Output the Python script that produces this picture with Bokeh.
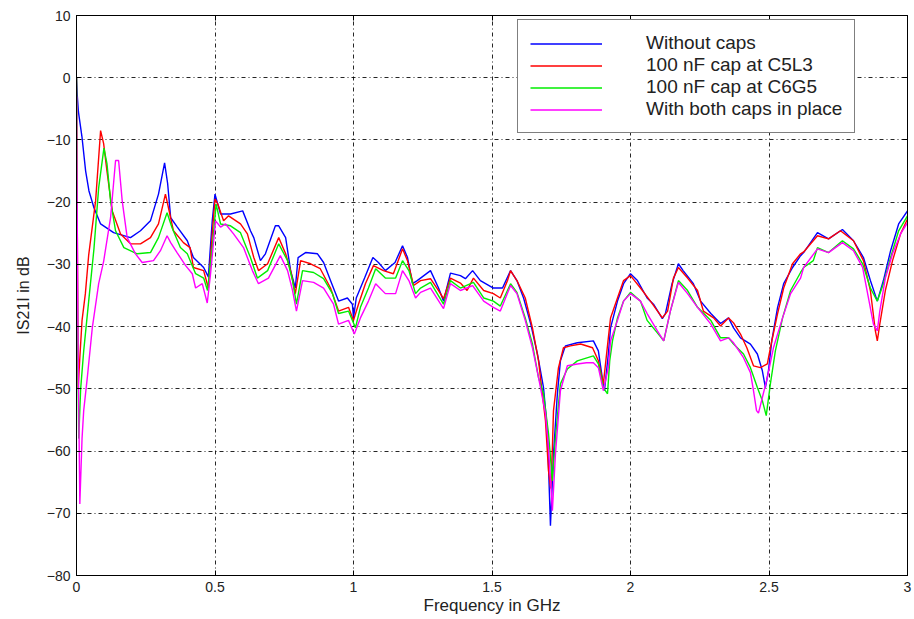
from bokeh.plotting import figure
from bokeh.models import (LinearAxis, Legend, LegendItem, NumeralTickFormatter, FixedTicker,
                          CustomJSTickFormatter)
from bokeh.embed import file_html
from bokeh.resources import INLINE

series_names = ["Without caps", "100 nF cap at C5L3", "100 nF cap at C6G5", "With both caps in place"]
series_colors = ["#0000ff", "#ff0000", "#00ee00", "#ff00ff"]

x_ticks = [0, 0.5, 1, 1.5, 2, 2.5, 3]
y_ticks = [-80, -70, -60, -50, -40, -30, -20, -10, 0, 10]

f_blue = [0, 0.003, 0.007, 0.02, 0.033, 0.045, 0.063, 0.087, 0.134, 0.195, 0.231, 0.267, 0.296, 0.318, 0.329,
          0.34, 0.364, 0.4, 0.422, 0.459, 0.476, 0.49, 0.5, 0.52, 0.531, 0.556, 0.6, 0.617, 0.628, 0.64, 0.664,
          0.682, 0.718, 0.73, 0.755, 0.773, 0.79, 0.8, 0.827, 0.87, 0.892, 0.917, 0.946, 0.978, 0.996, 1.0, 1.01,
          1.04, 1.07, 1.09, 1.115, 1.15, 1.177, 1.195, 1.213, 1.23, 1.278, 1.307, 1.325, 1.35, 1.386, 1.404,
          1.43, 1.458, 1.505, 1.538, 1.567, 1.59, 1.614, 1.64, 1.664, 1.686, 1.7, 1.711, 1.722, 1.736, 1.747,
          1.765, 1.808, 1.866, 1.884, 1.898, 1.906, 1.92, 1.928, 1.953, 1.975, 2.0, 2.025, 2.06, 2.083, 2.115,
          2.126, 2.15, 2.173, 2.19, 2.227, 2.253, 2.29, 2.325, 2.354, 2.372, 2.397, 2.433, 2.458, 2.476, 2.487,
          2.498, 2.51, 2.531, 2.553, 2.585, 2.614, 2.625, 2.675, 2.715, 2.765, 2.805, 2.841, 2.866, 2.891, 2.913,
          2.939, 2.968, 3.0]
db_blue = [0, -3, -5.5, -9.6, -15, -18.2, -20.9, -23.5, -24.9, -25.7, -24.6, -23, -18.7, -13.7, -17,
           -22.5, -24, -26.2, -28.9, -30.5, -32, -23, -18.7, -21.9, -21.9, -21.9, -21.4, -23.3, -24.6, -25.7, -29.4,
           -28.3, -23.8, -23.8, -25.7, -31, -33.8, -28.9, -28.1, -28.3, -29.7, -32.6, -35.9, -35.4, -36.4, -38.6, -35.4,
           -32.2, -28.9, -29.7, -31, -29.7, -27, -28.9, -33.1, -32.6, -31, -33.8, -35.9, -31.4, -31.8, -32.3,
           -31, -32.6, -33.8, -33.8, -31, -32.6, -35.4, -39.6, -44.4, -49.8, -56.8, -72, -60.5, -50.8, -45.5,
           -43.1, -42.6, -42.3, -43.9, -48.2, -50.3, -44.4, -40.2, -35.9, -33.1, -31.5, -32.6, -35.4, -36.4, -38.7,
           -37.9, -33.1, -29.9, -31, -33.1, -35.9, -37.9, -39.5, -38.6, -40.2, -41.8, -42.8, -44.4, -47.1, -49.8,
           -47.1, -42.3, -36.9, -33.1, -30.5, -28.6, -28.1, -24.9, -25.9, -24.4, -26.2, -28.9, -32.6, -35.9, -32.6,
           -27.8, -23.5, -21.4]

f_red = [0, 0.006, 0.012, 0.02, 0.032, 0.044, 0.069, 0.087, 0.098, 0.11, 0.129, 0.159, 0.195, 0.231, 0.267,
         0.296, 0.321, 0.332, 0.35, 0.386, 0.41, 0.422, 0.459, 0.476, 0.49, 0.5, 0.51, 0.531, 0.549, 0.592, 0.617,
         0.64, 0.657, 0.69, 0.73, 0.755, 0.773, 0.79, 0.809, 0.845, 0.88, 0.917, 0.946, 0.982, 1.0, 1.018, 1.043,
         1.072, 1.108, 1.144, 1.177, 1.195, 1.217, 1.242, 1.278, 1.307, 1.325, 1.35, 1.386, 1.41, 1.433, 1.47,
         1.505, 1.53, 1.556, 1.567, 1.59, 1.62, 1.646, 1.668, 1.693, 1.704, 1.712, 1.718, 1.722, 1.74, 1.758,
         1.783, 1.82, 1.863, 1.884, 1.902, 1.92, 1.928, 1.953, 1.975, 2.0, 2.036, 2.072, 2.115, 2.134, 2.155,
         2.173, 2.206, 2.242, 2.263, 2.3, 2.325, 2.354, 2.372, 2.397, 2.42, 2.444, 2.469, 2.494, 2.505, 2.531,
         2.553, 2.585, 2.614, 2.625, 2.675, 2.715, 2.758, 2.805, 2.841, 2.866, 2.884, 2.891, 2.9, 2.92, 2.946,
         2.975, 3.0]
db_red = [0, -50, -45, -39, -34.7, -28.5, -19.8, -8.5, -10.6, -15, -21.4, -25.1, -26.7, -26.7, -25.7,
          -23.5, -18.7, -20.9, -24.6, -26.5, -27.3, -30.5, -31, -33.8, -25.1, -19.5, -20.3, -23, -22.2, -23.5, -25.1,
          -28.9, -31, -29.9, -25.7, -28.3, -31, -34.7, -29.4, -29.9, -30.7, -33.8, -37.5, -36.9, -39, -36.4, -33.1,
          -30.2, -31, -31.5, -27.5, -29.4, -33.4, -32.6, -32.3, -34.2, -35.5, -32.2, -33, -34.2, -32.2, -34.2,
          -34.7, -35.4, -32.6, -31, -32.6, -35.4, -40.2, -45.5, -55.1, -63.2, -66, -59.5, -53.5, -46.6, -43.4,
          -43.1, -42.8, -43.4, -45.5, -49.2, -41.8, -38.6, -35.4, -32.6, -31.8, -33.8, -35.9, -38.6, -37.5, -32.2,
          -30.5, -32.2, -34.2, -37.5, -38.6, -39.9, -38.6, -39.4, -41.2, -43.4, -46.3, -46.6, -46, -43.4, -37.9,
          -33.8, -29.9, -28.3, -28, -25.4, -25.9, -24.6, -26.2, -29.4, -34.2, -40.7, -42.3, -39.6, -34.2, -29.4,
          -25.1, -22.7]

f_green = [0, 0.004, 0.008, 0.015, 0.026, 0.044, 0.063, 0.08, 0.099, 0.11, 0.123, 0.141, 0.171, 0.219, 0.267,
           0.296, 0.327, 0.345, 0.375, 0.4, 0.43, 0.459, 0.473, 0.49, 0.504, 0.52, 0.556, 0.592, 0.628, 0.653,
           0.69, 0.73, 0.762, 0.78, 0.794, 0.816, 0.856, 0.892, 0.924, 0.946, 0.982, 1.007, 1.025, 1.054, 1.08,
           1.115, 1.152, 1.177, 1.2, 1.224, 1.242, 1.278, 1.325, 1.35, 1.386, 1.433, 1.47, 1.505, 1.53, 1.567,
           1.59, 1.62, 1.646, 1.668, 1.686, 1.704, 1.718, 1.729, 1.747, 1.772, 1.808, 1.866, 1.884, 1.902, 1.917,
           1.925, 1.935, 1.953, 1.975, 2.0, 2.036, 2.06, 2.097, 2.12, 2.144, 2.173, 2.206, 2.242, 2.29, 2.325,
           2.354, 2.372, 2.408, 2.433, 2.458, 2.476, 2.49, 2.505, 2.523, 2.549, 2.578, 2.614, 2.625, 2.66, 2.675,
           2.715, 2.765, 2.805, 2.838, 2.866, 2.891, 2.913, 2.939, 2.968, 3.0]
db_green = [0, -40, -58, -50, -43.9, -35.9, -27.5, -17.7, -11.3, -13.8, -19.8, -24.6, -27.3, -28.3, -28.1,
            -25.7, -21.7, -24.1, -27.3, -28.3, -31.5, -32.2, -34.2, -27.3, -20.3, -23.5, -23.8, -24.9, -28.9, -32.2,
            -31, -26.7, -29.4, -32.6, -36.4, -31, -31.3, -32.3, -34.7, -37.9, -37.5, -40.2, -36.9, -33.8, -30.7,
            -32.2, -32.2, -29.4, -31, -34.7, -33.8, -32.9, -36.4, -32.6, -33.8, -32.9, -35.4, -35.9, -36.7, -33.1,
            -34.5, -38.6, -42.8, -48.2, -50.8, -57.2, -64.8, -57.9, -49.2, -46.8, -45.5, -44.7, -46, -49.8, -50.8,
            -45.5, -42.3, -38.6, -35.9, -34.5, -35.9, -39, -41, -42.3, -37.5, -32.6, -34.2, -36.9, -39, -41.8,
            -41.8, -42.8, -44.4, -46.6, -49.8, -51.9, -54.3, -49.2, -43.9, -38.6, -34.2, -31.3, -30.5, -29.4, -27.3,
            -28.1, -26.2, -27.5, -29.9, -33.8, -35.9, -33.1, -28.9, -24.6, -22.2]

f_mag = [0, 0.005, 0.012, 0.02, 0.026, 0.039, 0.057, 0.08, 0.098, 0.123, 0.141, 0.152, 0.165, 0.183, 0.213,
         0.237, 0.278, 0.303, 0.327, 0.34, 0.363, 0.394, 0.418, 0.43, 0.454, 0.472, 0.484, 0.502, 0.52, 0.538,
         0.567, 0.603, 0.635, 0.657, 0.693, 0.736, 0.762, 0.78, 0.794, 0.816, 0.856, 0.892, 0.928, 0.946, 0.982,
         1.003, 1.025, 1.054, 1.08, 1.115, 1.152, 1.177, 1.2, 1.224, 1.242, 1.278, 1.325, 1.35, 1.386, 1.43,
         1.47, 1.505, 1.53, 1.567, 1.59, 1.62, 1.646, 1.668, 1.693, 1.704, 1.718, 1.729, 1.747, 1.772, 1.808,
         1.841, 1.866, 1.884, 1.902, 1.92, 1.928, 1.953, 1.975, 2.0, 2.036, 2.06, 2.097, 2.12, 2.144, 2.173,
         2.206, 2.242, 2.29, 2.325, 2.354, 2.372, 2.408, 2.433, 2.444, 2.455, 2.462, 2.476, 2.494, 2.516, 2.549,
         2.578, 2.614, 2.625, 2.675, 2.715, 2.765, 2.805, 2.838, 2.859, 2.877, 2.891, 2.9, 2.92, 2.946, 2.975, 3.0]
db_mag = [-3, -40, -68.5, -58, -53.5, -48.2, -40.2, -33.1, -29.5, -22.5, -13.3, -13.3, -19.8, -25.7, -28.3,
          -29.7, -29.4, -27.8, -25.4, -26.5, -28.1, -30.2, -31.5, -33.8, -33.1, -36.2, -31.5, -23, -24, -23.5,
          -25.1, -27.3, -31, -33.1, -32.2, -28.6, -31, -34.2, -37.5, -32.6, -32.9, -33.8, -36.4, -39.6, -39,
          -41.2, -38.6, -35.9, -33.1, -34.7, -34.7, -31, -32.6, -35.4, -34.5, -33.8, -37.1, -33.1, -34.2, -33.4,
          -35.9, -36.9, -37.5, -33.4, -34.7, -39, -43.4, -48.2, -54, -59.5, -69.6, -60.5, -50.3, -46.3, -46,
          -45.8, -45.8, -46.6, -50.3, -46.6, -42.3, -39, -35.9, -34.7, -35.9, -37.9, -40.7, -42.3, -37.5, -32.9,
          -34.7, -36.9, -39.6, -42.3, -41.8, -42.6, -45, -47.4, -50.3, -53.5, -53.9, -51.4, -48.2, -43.4, -38.6,
          -34.7, -32.2, -30.5, -27.5, -28.1, -26.5, -27.8, -30.5, -35.4, -39.6, -40.7, -37.5, -32.2, -28.3, -25.1, -23.3]

FONT = "Liberation Sans"

p = figure(width=914, height=619, x_range=(0, 3), y_range=(-80, 10),
           output_backend="svg", toolbar_location=None,
           min_border_left=76, min_border_right=7, min_border_top=15, min_border_bottom=44,
           x_axis_label="Frequency in GHz", y_axis_label="IS21I in dB")
p.background_fill_color = "white"
p.border_fill_color = "white"
p.outline_line_color = "black"
p.outline_line_width = 1

for ax in (p.xaxis[0], p.yaxis[0]):
    ax.major_tick_in = 5
    ax.major_tick_out = 0
    ax.minor_tick_in = 0
    ax.minor_tick_out = 0
    ax.axis_line_color = "black"
    ax.major_tick_line_color = "black"
    ax.major_label_text_font = FONT
    ax.major_label_text_font_size = "14px"
    ax.major_label_text_color = "#222222"
    ax.axis_label_text_font = FONT
    ax.axis_label_text_font_style = "normal"
    ax.axis_label_text_color = "#222222"

p.xaxis[0].axis_label_text_font_size = "17px"
p.yaxis[0].axis_label_text_font_size = "16px"
p.xaxis[0].ticker = FixedTicker(ticks=x_ticks)
p.yaxis[0].ticker = FixedTicker(ticks=y_ticks)
p.xaxis[0].formatter = NumeralTickFormatter(format="0.[0]")
p.xaxis[0].major_label_standoff = 6
p.xaxis[0].axis_label_standoff = 1
p.yaxis[0].major_label_standoff = 6
p.yaxis[0].axis_label_standoff = 12

# mirrored tick-only axes at top and right (MATLAB box ticks)
blank = CustomJSTickFormatter(code="return '';")
top = LinearAxis(ticker=FixedTicker(ticks=x_ticks), formatter=blank, major_tick_in=5, major_tick_out=0,
                 minor_tick_in=0, minor_tick_out=0, major_label_text_font_size="1px",
                 major_label_standoff=0)
right = LinearAxis(ticker=FixedTicker(ticks=y_ticks), formatter=blank, major_tick_in=5, major_tick_out=0,
                   minor_tick_in=0, minor_tick_out=0, major_label_text_font_size="1px",
                   major_label_standoff=0)
p.add_layout(top, "above")
p.add_layout(right, "right")

for g in (p.xgrid[0], p.ygrid[0]):
    g.grid_line_color = "black"
    g.grid_line_dash = "4 3 1 3"
    g.grid_line_width = 1
    g.grid_line_alpha = 0.85
p.xgrid[0].ticker = FixedTicker(ticks=x_ticks)
p.ygrid[0].ticker = FixedTicker(ticks=y_ticks)

xs_all = [f_blue, f_red, f_green, f_mag]
ys_all = [db_blue, db_red, db_green, db_mag]
renderers = []
for xs, ys, c in zip(xs_all, ys_all, series_colors):
    renderers.append(p.line(xs, ys, line_color=c, line_width=1.4))

legend = Legend(items=[LegendItem(label=n, renderers=[r]) for n, r in zip(series_names, renderers)],
                location=(441, 442))
legend.padding = 12
legend.margin = 0
legend.spacing = 0
legend.label_height = 21
legend.glyph_height = 21
legend.glyph_width = 72
legend.label_standoff = 44
legend.label_text_font = FONT
legend.label_text_font_size = "19px"
legend.label_text_color = "#222222"
legend.border_line_color = "black"
legend.border_line_width = 1
legend.background_fill_color = "white"
legend.background_fill_alpha = 1
p.add_layout(legend, "center")

open("out.html", "w").write(file_html(p, INLINE))
